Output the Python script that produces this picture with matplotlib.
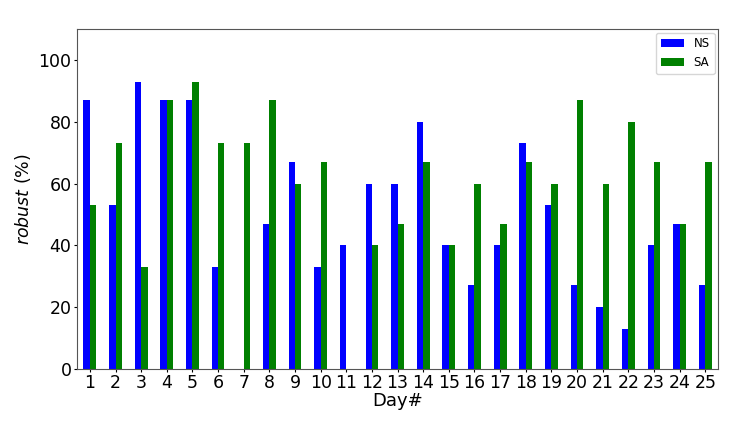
import numpy as np
import matplotlib
matplotlib.use("Agg")
import matplotlib.pyplot as plt

days = list(range(1, 26))
ns = [87, 53, 93, 87, 87, 33, 0, 47, 67, 33, 40, 60, 60, 80, 40,
      27, 40, 73, 53, 27, 20, 13, 40, 47, 27]
sa = [53, 73, 33, 87, 93, 73, 73, 87, 60, 67, 0, 40, 47, 67, 40,
      60, 47, 67, 60, 87, 60, 80, 67, 47, 67]


def main():
    fig = plt.figure(figsize=(7.48, 4.34), dpi=100)
    ax = fig.add_axes([0.103, 0.150, 0.857, 0.783])

    x = np.arange(len(days))
    w = 0.25
    ax.bar(x - w / 2, ns, width=w, color='blue', label='NS')
    ax.bar(x + w / 2, sa, width=w, color='green', label='SA')

    ax.set_xlim(-0.5, len(days) - 0.5)
    ax.set_ylim(0, 110)
    ax.set_xticks(x)
    ax.set_xticklabels([str(d) for d in days])
    ax.tick_params(axis='both', labelsize=12.5, length=2.5, pad=1.5)
    ax.set_xlabel('Day#', fontsize=13, labelpad=0)
    ax.set_ylabel('$robust$ (%)', fontsize=12.5, labelpad=4)
    ax.legend(loc='upper right', fontsize=8.5, borderaxespad=0.3)
    for s in ax.spines.values():
        s.set_color('#555555')

    fig.savefig('out.png', dpi=100)


if __name__ == '__main__':
    main()
